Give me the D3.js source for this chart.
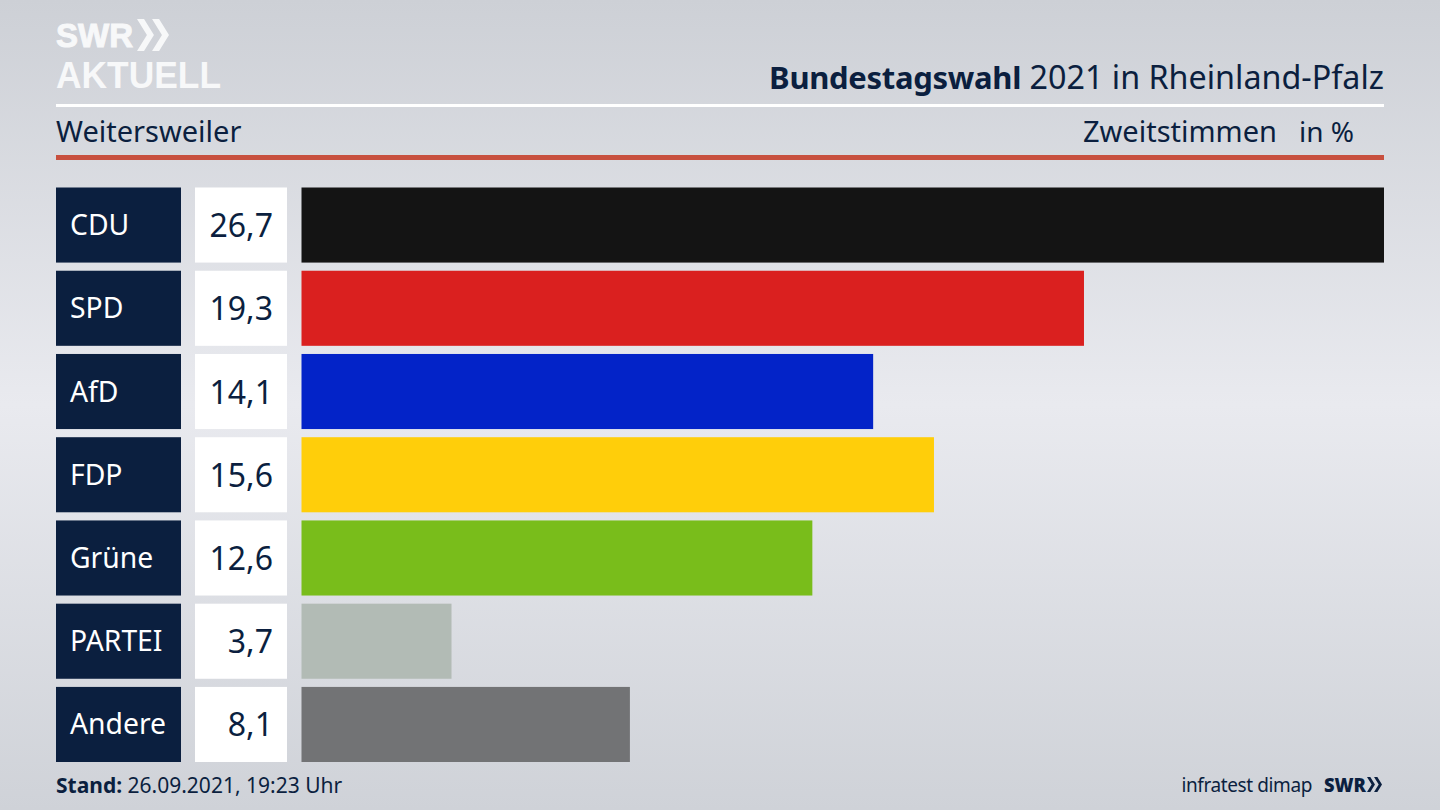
<!DOCTYPE html>
<html>
<head>
<meta charset="utf-8">
<script src="https://cdn.jsdelivr.net/npm/d3@7"></script>
<style>
  html, body { margin: 0; padding: 0; overflow: hidden; }
  text { font-family: "Noto Sans", "Open Sans", sans-serif; }
  text.logo-text { font-family: "Liberation Sans", sans-serif; font-weight: 700; }
</style>
</head>
<body>
<div id="chart"></div>
<script>
var parties = ["CDU", "SPD", "AfD", "FDP", "Grüne", "PARTEI", "Andere"];
var values = [26.7, 19.3, 14.1, 15.6, 12.6, 3.7, 8.1];
var colors = ["#141414", "#da201f", "#0323c8", "#ffce0a", "#79bd1b", "#b2bbb5", "#727375"];

var width = 1440, height = 810;
var navy = "#0b1f3f";

var svg = d3.select("#chart").append("svg")
  .attr("width", width)
  .attr("height", height)
  .style("display", "block");

// background
var defs = svg.append("defs");
var grad = defs.append("linearGradient")
  .attr("id", "bg").attr("x1", 0).attr("y1", 0).attr("x2", 0).attr("y2", 1);
grad.append("stop").attr("offset", "0%").attr("stop-color", "#cdd0d6");
grad.append("stop").attr("offset", "50%").attr("stop-color", "#e9eaef");
grad.append("stop").attr("offset", "100%").attr("stop-color", "#cfd2d8");
svg.append("rect").attr("width", width).attr("height", height).attr("fill", "url(#bg)");

var y = d3.scaleBand().domain(parties).range([187.5, 762]).paddingInner(0.098).paddingOuter(0);
var x = d3.scaleLinear().domain([0, 26.7]).range([301.5, 1384]);
var fmt = function(v) { return v.toFixed(1).replace(".", ","); };

// party boxes
svg.selectAll(".label-box").data(parties).enter().append("rect")
  .attr("class", "label-box")
  .attr("x", 56).attr("y", function(d) { return y(d); })
  .attr("width", 125).attr("height", y.bandwidth())
  .attr("fill", navy);

svg.selectAll(".label-text").data(parties).enter().append("text")
  .attr("class", "label-text")
  .attr("x", 70).attr("y", function(d) { return y(d) + y.bandwidth() / 2 + 10; })
  .attr("font-size", 28.3).attr("fill", "#ffffff")
  .text(function(d) { return d; });

// value boxes
svg.selectAll(".value-box").data(parties).enter().append("rect")
  .attr("class", "value-box")
  .attr("x", 195).attr("y", function(d) { return y(d); })
  .attr("width", 92).attr("height", y.bandwidth())
  .attr("fill", "#ffffff");

svg.selectAll(".value-text").data(values).enter().append("text")
  .attr("class", "value-text")
  .attr("x", 273).attr("y", function(d, i) { return y(parties[i]) + y.bandwidth() / 2 + 12; })
  .attr("text-anchor", "end")
  .attr("font-size", 32).attr("fill", navy)
  .text(fmt);

// bars
svg.selectAll(".bar").data(values).enter().append("rect")
  .attr("class", "bar")
  .attr("x", x(0)).attr("y", function(d, i) { return y(parties[i]); })
  .attr("width", function(d) { return x(d) - x(0); })
  .attr("height", y.bandwidth())
  .attr("fill", function(d, i) { return colors[i]; });

// header rules
svg.append("rect").attr("x", 56).attr("y", 104).attr("width", 1328).attr("height", 3).attr("fill", "#ffffff");
svg.append("rect").attr("x", 56).attr("y", 155).attr("width", 1328).attr("height", 5).attr("fill", "#c8503f");

// title
var title = svg.append("text")
  .attr("x", 1384).attr("y", 89)
  .attr("text-anchor", "end")
  .attr("font-size", 32.3).attr("fill", navy);
title.append("tspan").attr("font-weight", 700).attr("font-size", 31).attr("letter-spacing", -0.3).text("Bundestagswahl");
title.append("tspan").text(" 2021 in Rheinland-Pfalz");

svg.append("text").attr("x", 56).attr("y", 142)
  .attr("font-size", 29).attr("fill", navy).text("Weitersweiler");
svg.append("text").attr("x", 1277).attr("y", 142).attr("text-anchor", "end")
  .attr("font-size", 29).attr("fill", navy).text("Zweitstimmen");
svg.append("text").attr("x", 1354).attr("y", 142).attr("text-anchor", "end")
  .attr("font-size", 28).attr("fill", navy).text("in %");

// footer
var stand = svg.append("text").attr("x", 56).attr("y", 793)
  .attr("font-size", 21).attr("fill", navy);
stand.append("tspan").attr("font-weight", 700).text("Stand:");
stand.append("tspan").text(" 26.09.2021, 19:23 Uhr");

svg.append("text").attr("x", 1312).attr("y", 792).attr("text-anchor", "end")
  .attr("font-size", 19).attr("letter-spacing", -0.4).attr("fill", navy).text("infratest dimap");

// chevrons of the logo
function chevrons(g, h) {
  var t = h * 0.22, w = h * 0.31, gap = h * 0.47;
  [0, gap].forEach(function(dx) {
    g.append("path")
      .attr("d", d3.line()([[dx, 0], [dx + t, 0], [dx + t + w, h / 2], [dx + t, h], [dx, h], [dx + w, h / 2]]) + "Z");
  });
}

// SWR AKTUELL logo
var logo = svg.append("g").attr("fill", "#f7f8f9");
logo.append("text").attr("class", "logo-text").attr("x", 56).attr("y", 47)
  .attr("font-size", 34).attr("fill", "#f7f8f9").attr("stroke", "#f7f8f9").attr("stroke-width", 1)
  .attr("textLength", 77).attr("lengthAdjust", "spacingAndGlyphs").text("SWR");
logo.append("text").attr("class", "logo-text").attr("x", 56).attr("y", 88)
  .attr("font-size", 36).attr("fill", "#f7f8f9")
  .attr("textLength", 165).attr("lengthAdjust", "spacingAndGlyphs").text("AKTUELL");
chevrons(logo.append("g").attr("transform", "translate(137,19)"), 32);

// small SWR logo
var small = svg.append("g").attr("fill", navy);
small.append("text").attr("x", 1324).attr("y", 792)
  .attr("font-size", 20).attr("font-weight", 900).attr("fill", navy)
  .attr("textLength", 42).attr("lengthAdjust", "spacingAndGlyphs").text("SWR");
chevrons(small.append("g").attr("transform", "translate(1367,777)"), 15);
</script>
</body>
</html>
